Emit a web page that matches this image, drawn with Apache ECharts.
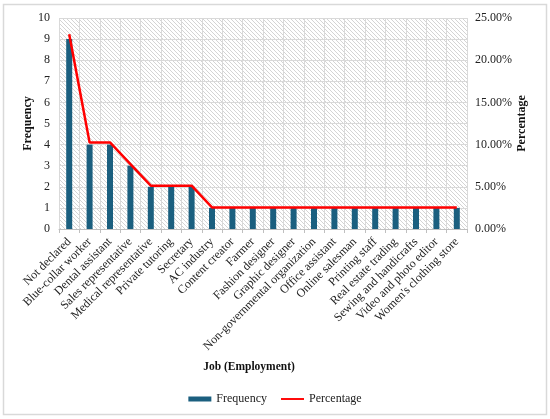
<!DOCTYPE html>
<html>
<head>
    <meta charset="utf-8">
    <title>Job (Employment)</title>
    <style>
        html, body { margin: 0; padding: 0; background: #fff; }
        #chart1 { width: 550px; height: 419px; }
    </style>
</head>
<body>
    <div id="chart1"></div>
    <script src="https://cdn.jsdelivr.net/npm/echarts@6/dist/echarts.min.js"></script>
    <script type="text/javascript">
        // 数据
        var jobs = ['Not declared', 'Blue-collar worker', 'Dental assistant', 'Sales representative',
            'Medical representative', 'Private tutoring', 'Secretary', 'AC industry', 'Content creator',
            'Farmer', 'Fashion designer', 'Graphic designer', 'Non-governmental organization',
            'Office assistant', 'Online salesman', 'Printing staff', 'Real estate trading',
            'Sewing and handicrafts', 'Video and photo editor', "Women's clothing store"];
        var frequency = [9, 4, 4, 3, 2, 2, 2, 1, 1, 1, 1, 1, 1, 1, 1, 1, 1, 1, 1, 1];
        var percentage = [23.08, 10.26, 10.26, 7.69, 5.13, 5.13, 5.13, 2.56, 2.56, 2.56,
            2.56, 2.56, 2.56, 2.56, 2.56, 2.56, 2.56, 2.56, 2.56, 2.56];

        // 斜线背景
        var hatch = document.createElement('canvas');
        hatch.width = 4;
        hatch.height = 4;
        var ctx = hatch.getContext('2d');
        ctx.fillStyle = '#ffffff';
        ctx.fillRect(0, 0, 4, 4);
        ctx.strokeStyle = '#d4d4d4';
        ctx.lineWidth = 1;
        ctx.beginPath();
        ctx.moveTo(-1, -1); ctx.lineTo(5, 5);
        ctx.moveTo(-1, 3); ctx.lineTo(1, 5);
        ctx.moveTo(3, -1); ctx.lineTo(5, 1);
        ctx.stroke();

        var font = '"Liberation Serif", "Times New Roman", serif';
        var titleStyle = { fontFamily: font, fontSize: 12, fontWeight: 'bold', color: '#111' };
        var myChart1 = echarts.init(document.getElementById('chart1'));
        myChart1.setOption({
            animation: false,
            textStyle: { fontFamily: font, color: '#222' },
            graphic: [{
                type: 'rect',
                shape: { x: 3.5, y: 4.5, width: 543, height: 410 },
                style: { fill: 'none', stroke: '#d9d9d9', lineWidth: 1.5 },
                silent: true
            }],
            grid: {
                left: 59, right: 83, top: 18, bottom: 190,
                show: true,
                borderWidth: 0,
                backgroundColor: { image: hatch, repeat: 'repeat' }
            },
            legend: {
                bottom: 9,
                left: 'center',
                itemGap: 14,
                itemWidth: 23,
                itemHeight: 5,
                textStyle: { fontFamily: font, fontSize: 12, color: '#222' },
                data: [
                    { name: 'Frequency', icon: 'rect' },
                    { name: 'Percentage', icon: 'path://M0,0 L24,0 L24,2 L0,2 Z' }
                ]
            },
            xAxis: {
                type: 'category',
                data: jobs,
                name: 'Job (Employment)',
                nameLocation: 'middle',
                nameGap: 132,
                nameMoveOverlap: false,
                nameTextStyle: {
                    fontFamily: font, fontSize: 11.5, fontWeight: 'bold', color: '#111',
                    padding: [0, 28, 0, 0]
                },
                axisLine: { lineStyle: { color: '#bfbfbf' } },
                axisTick: { show: true, length: 4, lineStyle: { color: '#bfbfbf' } },
                axisLabel: { rotate: 45, interval: 0, fontSize: 12, margin: 11, color: '#222' },
                splitLine: { show: true, lineStyle: { color: '#d9d9d9' } }
            },
            yAxis: [{
                type: 'value',
                min: 0, max: 10, interval: 1,
                name: 'Frequency',
                nameLocation: 'middle',
                nameRotate: 90,
                nameGap: 25,
                nameMoveOverlap: false,
                nameTextStyle: titleStyle,
                axisLine: { show: false },
                axisLabel: { fontSize: 12, margin: 9, color: '#222' },
                splitLine: { lineStyle: { color: '#d9d9d9' } }
            }, {
                type: 'value',
                min: 0, max: 25, interval: 5,
                name: 'Percentage',
                nameLocation: 'middle',
                nameRotate: 90,
                nameGap: 49,
                nameMoveOverlap: false,
                nameTextStyle: titleStyle,
                axisLine: { show: false },
                axisLabel: {
                    fontSize: 12, margin: 8, color: '#222',
                    formatter: function (v) { return v.toFixed(2) + '%'; }
                },
                splitLine: { show: false }
            }],
            series: [{
                name: 'Frequency',
                type: 'bar',
                data: frequency,
                barWidth: 6,
                itemStyle: { color: '#1b5f7f' }
            }, {
                name: 'Percentage',
                type: 'line',
                yAxisIndex: 1,
                data: percentage,
                showSymbol: false,
                symbol: 'none',
                lineStyle: { color: '#ff0000', width: 2.5 },
                itemStyle: { color: '#ff0000' }
            }]
        });
    </script>
</body>
</html>
